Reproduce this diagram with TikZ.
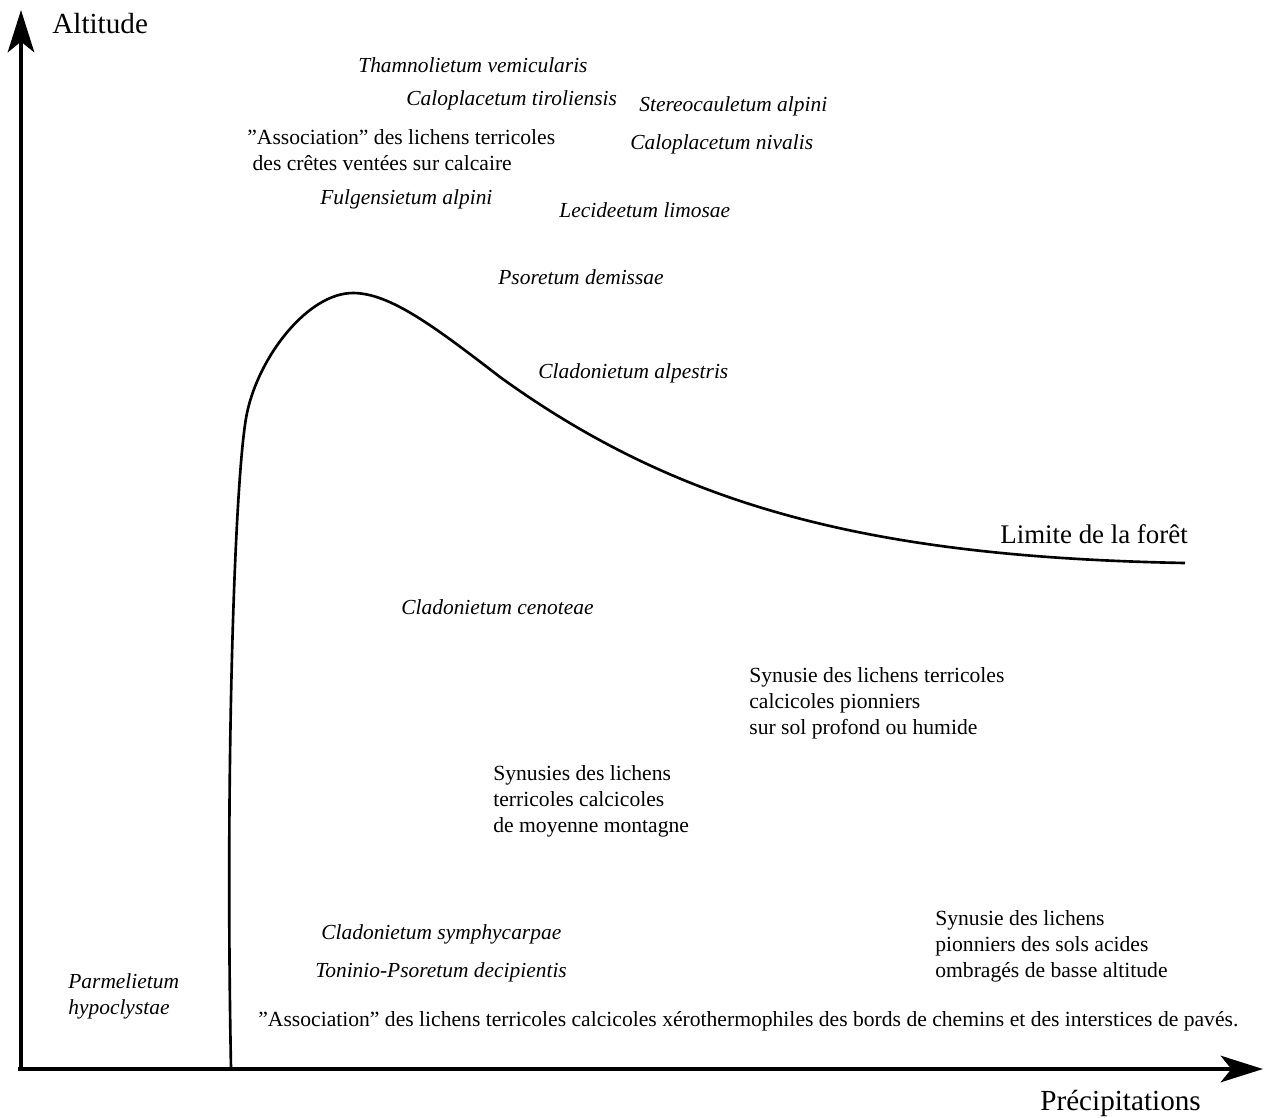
\documentclass[tikz,border=0pt]{standalone}
\usepackage{fontspec}
\setmainfont{Liberation Serif}
\usetikzlibrary{arrows.meta}

\tikzset{
  axis/.style={line width=2.8pt, -{Stealth[length=24pt,width=15pt,inset=6pt]}},
  axislabel/.style={anchor=base west, inner sep=0pt, font=\fontsize{16.6pt}{19pt}\selectfont},
  treeline/.style={line width=1.5pt},
  lichen/.style={anchor=base west, inner sep=0pt, font=\fontsize{12.2pt}{14.7pt}\selectfont\itshape},
  synusie/.style={anchor=west, inner sep=0pt, align=left, font=\fontsize{12.3pt}{14.7pt}\selectfont},
}

\begin{document}
\begin{tikzpicture}[x=0.02cm, y=-0.02cm]
    \useasboundingbox (0,0) rectangle (1269,1117);
    % axes
    \coordinate (ybot) at (21,1071);
    \coordinate (ytop) at (21,10);
    \coordinate (xbeg) at (18,1069);
    \coordinate (xend) at (1263,1069);
    \draw[axis] (ybot) -- (ytop);
    \draw[axis] (xbeg) -- (xend);
    \node[axislabel] (altitude) at (52,33) {Altitude};
    \node[axislabel] (precip) at (1040,1110) {Précipitations};
    % forest limit
    \coordinate (foot) at (231,1068);
    \coordinate (bend) at (247,413);
    \coordinate (peak) at (353,293);
    \coordinate (slope) at (500,377);
    \coordinate (tail) at (1185,563);
    \draw[treeline] (foot) .. controls (225,760) and (235,470) .. (bend)
        .. controls (259,356) and (308,293) .. (peak)
        .. controls (390,293) and (435,327) .. (slope)
        .. controls (680,507) and (870,557) .. (tail);
    \node[axislabel, font=\fontsize{15.3pt}{17pt}\selectfont] (limite) at (1000,543) {Limite de la forêt};
    % associations (italic)
    \foreach \x/\y/\nm/\txt in {358/72/thamno/Thamnolietum vemicularis,
        406/105/calotir/Caloplacetum tiroliensis,
        639/111/stereo/Stereocauletum alpini,
        630/149/calniv/Caloplacetum nivalis,
        320/204/fulgens/Fulgensietum alpini,
        559/217/lecid/Lecideetum limosae,
        498/284/psoret/Psoretum demissae,
        538/378/cladalp/Cladonietum alpestris,
        401/614/cladcen/Cladonietum cenoteae,
        321/939/cladsym/Cladonietum symphycarpae,
        315/977/toninio/Toninio-Psoretum decipientis} {
        \node[lichen] (\nm) at (\x,\y) {\txt};
    }
    \node[lichen, anchor=west, align=left] (parmel) at (68,996) {Parmelietum\\hypoclystae};
    % synusies
    \node[synusie] (cretes) at (247,150) {”Association” des lichens terricoles\\\hspace*{3pt}des crêtes ventées sur calcaire};
    \node[synusie] (profond) at (749,703) {Synusie des lichens terricoles\\calcicoles pionniers\\sur sol profond ou humide};
    \node[synusie] (moyenne) at (493,801) {Synusies des lichens\\terricoles calcicoles\\de moyenne montagne};
    \node[synusie] (acides) at (935,946) {Synusie des lichens\\pionniers des sols acides\\ombragés de basse altitude};
    \node[synusie, anchor=base west] (xero) at (258,1026) {”Association” des lichens terricoles calcicoles xérothermophiles des bords de chemins et des interstices de pavés.};
\end{tikzpicture}
\end{document}
